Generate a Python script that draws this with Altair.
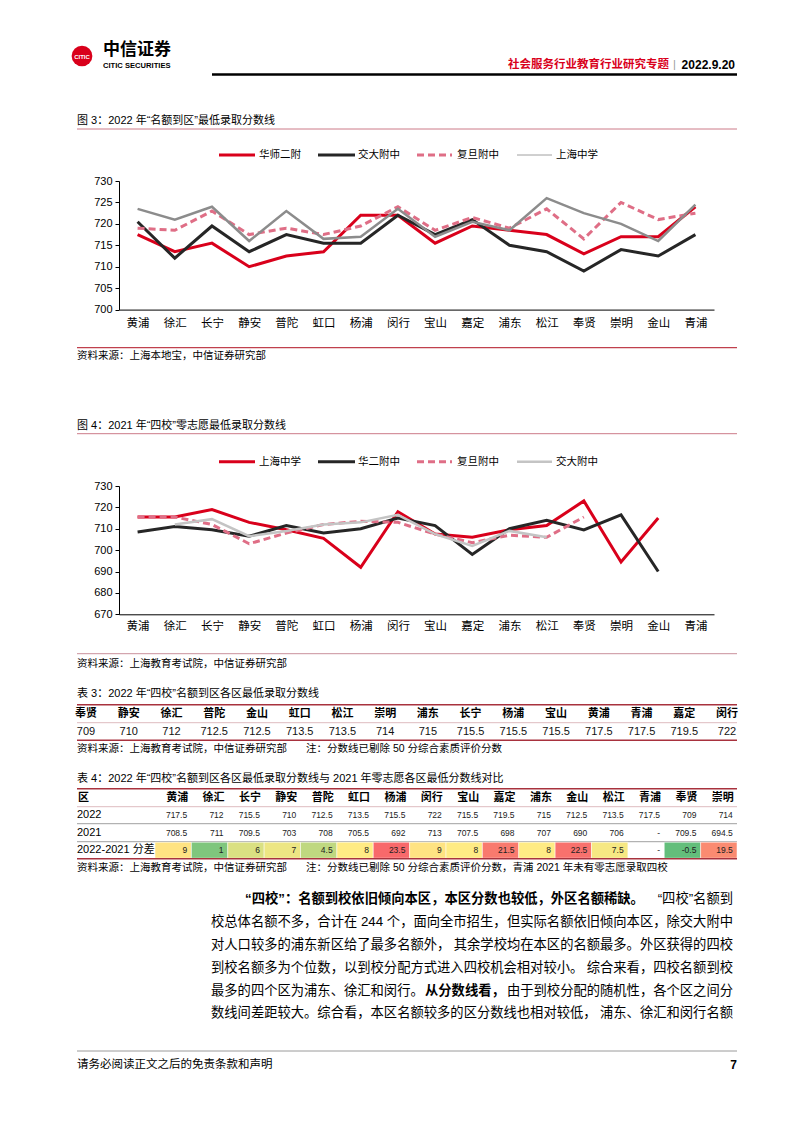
import altair as alt
import pandas as pd

# ---------------- data ----------------
districts = ["黄浦", "徐汇", "长宁", "静安", "普陀", "虹口", "杨浦", "闵行",
             "宝山", "嘉定", "浦东", "松江", "奉贤", "崇明", "金山", "青浦"]

# Figure 3 : 2022 "名额到区" minimum scores
schools_2022 = ["华师二附", "交大附中", "复旦附中", "上海中学"]
hs2f_2022 = [717.5, 713.5, 715.5, 710, 712.5, 713.5, 722, 722, 715.5, 719.5, 718.5, 717.5, 713, 717, 717, 724]
jdfz_2022 = [720.5, 712, 719.5, 713.5, 717.5, 715.5, 715.5, 722, 717.5, 721, 715, 713.5, 709, 714, 712.5, 717.5]
fdfz_2022 = [719, 718.5, 723, 717.5, 719, 717.5, 719.5, 724, 718.5, 721.5, 719, 723.5, 716.5, 725, 721, 722.5]
shzx_2022 = [723.5, 721, 724, 716, 723, 716.5, 717, 723.5, 717, 720.5, 718.5, 726, 722.5, 720, 716, 724.5]

# Figure 4 : 2021 "四校" zero-choice minimum scores
schools_2021 = ["上海中学", "华二附中", "复旦附中", "交大附中"]
shzx_2021 = [715.5, 715.5, 719, 713, 709.5, 705.5, 692, 718, 707.5, 706, 709.5, 711.5, 723, 694.5, 715, None]
h2fz_2021 = [708.5, 711, 709.5, 706.5, 711.5, 708, 710, 715, 711.5, 698, 710, 714, 709.5, 716.5, 690, None]
fdfz_2021 = [715.5, 715.5, 712, 703, 708, 712, 713.5, 713, 707.5, 703.5, 707, 706, 715.5, None, None, None]
jdfz_2021 = [None, 712, 714.5, 706.5, 709, 712, 713, 716.5, 707.5, 702, 709, 706, None, None, None, None]

# Table 3
t3_names = ["奉贤", "静安", "徐汇", "普陀", "金山", "虹口", "松江", "崇明",
            "浦东", "长宁", "杨浦", "宝山", "黄浦", "青浦", "嘉定", "闵行"]
t3_vals = [709, 710, 712, 712.5, 712.5, 713.5, 713.5, 714, 715, 715.5, 715.5, 715.5, 717.5, 717.5, 719.5, 722]

# Table 4
t4_names = ["黄浦", "徐汇", "长宁", "静安", "普陀", "虹口", "杨浦", "闵行",
            "宝山", "嘉定", "浦东", "金山", "松江", "青浦", "奉贤", "崇明"]
t4_2022 = [717.5, 712, 715.5, 710, 712.5, 713.5, 715.5, 722, 715.5, 719.5, 715, 712.5, 713.5, 717.5, 709, 714]
t4_2021 = [708.5, 711, 709.5, 703, 708, 705.5, 692, 713, 707.5, 698, 707, 690, 706, None, 709.5, 694.5]
t4_diff = [9, 1, 6, 7, 4.5, 8, 23.5, 9, 8, 21.5, 8, 22.5, 7.5, None, -0.5, 19.5]

# ---------------- style ----------------
CJK = "Noto Sans CJK SC"
MIX = "Liberation Sans, Noto Sans CJK SC"
RED = "#D9001B"
BLACK = "#262626"
PINK = "#DF6E86"
GRAY1 = "#8C8C8C"
GRAY2 = "#C4C4C4"
W = 786
dummy = pd.DataFrame({"k": [0]})


def fmt(v):
    return "-" if v is None else f"{v:g}"


def text(x, y, s, oy, size=10.5, weight="normal", color="#000", align="left", font=MIX):
    return alt.Chart(dummy).mark_text(
        text=s, fontSize=size, fontWeight=weight, color=color, align=align,
        baseline="middle", font=font
    ).encode(x=alt.value(x - 8), y=alt.value(y - oy))


def hrule(x1, x2, y, oy, color="#000", width=1.0, dash=None):
    kw = dict(color=color, strokeWidth=width)
    if dash:
        kw["strokeDash"] = dash
    return alt.Chart(dummy).mark_rule(**kw).encode(
        x=alt.value(x1 - 8), x2=alt.value(x2 - 8), y=alt.value(y - oy))


def legend(items, y, oy):
    out = []
    xs = [(219, 255, 259), (318, 355, 358), (417, 452, 457), (517, 552, 556)]
    for (x1, x2, tx), (name, color, width, dash) in zip(xs, items):
        out.append(hrule(x1, x2, y, oy, color=color, width=width, dash=dash))
        out.append(text(tx, y, name, oy, size=10.5, font=CJK))
    return out


def line_chart(series, names, styles, ydomain, yvalues, height, label_pad):
    rows = []
    for name, vals in zip(names, series):
        for d, v in zip(districts, vals):
            if v is not None:
                rows.append({"district": d, "school": name, "value": v})
    df = pd.DataFrame(rows)
    xenc = alt.X("district:N", sort=districts,
                 scale=alt.Scale(domain=districts, range=[111, 706], paddingInner=0, paddingOuter=0),
                 axis=alt.Axis(title=None, labelAngle=0, ticks=False, tickSize=0, labelPadding=label_pad,
                               labelFont=CJK, labelFontSize=11.5, labelColor="#000",
                               domainColor="#000", domainWidth=1, grid=False))
    yenc = alt.Y("value:Q",
                 scale=alt.Scale(domain=ydomain, nice=False, zero=False),
                 axis=alt.Axis(title=None, values=yvalues, offset=-111, tickSize=4, tickColor="#000",
                               labelPadding=3, labelFont="Liberation Sans", labelFontSize=11,
                               labelColor="#000", domainColor="#000", domainWidth=1, grid=False))
    layers = []
    for name, (color, width, dash) in zip(names, styles):
        mk = dict(color=color, strokeWidth=width, strokeCap="butt", strokeJoin="miter")
        if dash:
            mk["strokeDash"] = dash
        layers.append(alt.Chart(df).transform_filter(alt.datum.school == name)
                      .mark_line(**mk).encode(x=xenc, y=yenc))
    return alt.layer(*layers).properties(width=W, height=height)


# ---------------- row A : header, figure 3 title, legend ----------------
oyA = 8
rowA_layers = [
    alt.Chart(dummy).mark_point(filled=True, shape="circle", size=430, color=RED, opacity=1)
    .encode(x=alt.value(82 - 8), y=alt.value(56 - oyA)),
    text(82, 56.5, "CITIC", oyA, size=6, weight="bold", color="#fff", align="center", font="Liberation Sans"),
    text(103, 50, "中信证券", oyA, size=17, weight="bold", font=CJK),
    text(103, 66, "CITIC SECURITIES", oyA, size=7.6, weight="bold", font="Liberation Sans Narrow, Liberation Sans"),
    text(669, 65, "社会服务行业教育行业研究专题", oyA, size=11.5, weight="bold", color=RED, align="right", font=CJK),
    text(674.5, 65, "|", oyA, size=11, color="#999", align="center"),
    text(735, 65, "2022.9.20", oyA, size=12, weight="bold", align="right", font="Liberation Sans"),
    hrule(212, 737, 74.5, oyA, color="#000", width=2.5),
    text(77, 121, "图 3：2022 年“名额到区”最低录取分数线", oyA, size=11),
    hrule(77, 737, 129, oyA, color="#CC7A88", width=1),
]
rowA_layers += legend([("华师二附", RED, 3, None), ("交大附中", BLACK, 3, None),
                       ("复旦附中", PINK, 3, [7, 4]), ("上海中学", "#A0A0A0", 1, None)], 155, oyA)
rowA = alt.layer(*rowA_layers).properties(width=W, height=172.7)

# ---------------- row B : figure 3 ----------------
rowB = line_chart([hs2f_2022, jdfz_2022, fdfz_2022, shzx_2022], schools_2022,
                  [(RED, 3, None), (BLACK, 3, None), (PINK, 3, [7, 4]), (GRAY1, 2.5, None)],
                  [700, 730], [700, 705, 710, 715, 720, 725, 730], 128.6, 8)

# ---------------- row C : source, figure 4 title, legend ----------------
oyC = 309.3
rowC_layers = [
    hrule(77, 737, 347, oyC, color="#C0404D", width=1.2),
    text(77, 355, "资料来源：上海本地宝，中信证券研究部", oyC, size=10.5),
    text(77, 425, "图 4：2021 年“四校”零志愿最低录取分数线", oyC, size=11),
    hrule(77, 737, 433, oyC, color="#CC7A88", width=1),
]
rowC_layers += legend([("上海中学", RED, 3, None), ("华二附中", BLACK, 3, None),
                       ("复旦附中", PINK, 3, [7, 4]), ("交大附中", GRAY2, 2.5, None)], 461, oyC)
rowC = alt.layer(*rowC_layers).properties(width=W, height=175.7)

# ---------------- row D : figure 4 ----------------
rowD = line_chart([shzx_2021, h2fz_2021, fdfz_2021, jdfz_2021], schools_2021,
                  [(RED, 3, None), (BLACK, 3, None), (PINK, 3, [7, 4]), (GRAY2, 2.5, None)],
                  [670, 730], [670, 680, 690, 700, 710, 720, 730], 128.3, 6)

# ---------------- row E : tables, text, footer ----------------
oyE = 613.3
layersE = [
    hrule(77, 737, 652, oyE, color="#C9909C", width=1),
    text(77, 662, "资料来源：上海教育考试院，中信证券研究部", oyE, size=10.5),
    text(77, 692, "表 3：2022 年“四校”名额到区各区最低录取分数线", oyE, size=11),
    hrule(77, 737, 703, oyE, color="#A8323E", width=1.5),
    hrule(77, 737, 721, oyE, color="#D4A9AF", width=0.8),
    hrule(77, 737, 738.5, oyE, color="#A8323E", width=1.5),
    text(77, 747, "资料来源：上海教育考试院，中信证券研究部", oyE, size=10.5),
    text(306, 747, "注：分数线已剔除 50 分综合素质评价分数", oyE, size=10.5),
]

t3 = pd.DataFrame({"district": t3_names, "score": [fmt(v) for v in t3_vals]})
x3 = alt.X("district:N", sort=t3_names,
           scale=alt.Scale(type="point", domain=t3_names, range=[78, 719], padding=0), axis=None)
layersE.append(alt.Chart(t3).mark_text(fontSize=11, fontWeight="bold", font=CJK, baseline="middle", color="#000")
               .encode(x=x3, y=alt.value(712 - oyE), text="district:N"))
layersE.append(alt.Chart(t3).mark_text(fontSize=11, font="Liberation Sans", baseline="middle", color="#111")
               .encode(x=x3, y=alt.value(730 - oyE), text="score:N"))

# table 4
layersE += [
    text(77, 777, "表 4：2022 年“四校”名额到区各区最低录取分数线与 2021 年零志愿各区最低分数线对比", oyE, size=11),
    hrule(77, 737, 787, oyE, color="#A8323E", width=1.5),
    hrule(77, 737, 805, oyE, color="#D4A9AF", width=0.8),
    hrule(77, 737, 822, oyE, color="#888888", width=0.8),
    hrule(77, 737, 840, oyE, color="#888888", width=0.8),
]
t4 = pd.DataFrame({"district": t4_names,
                   "s2022": [fmt(v) for v in t4_2022],
                   "s2021": [fmt(v) for v in t4_2021],
                   "sdiff": [fmt(v) for v in t4_diff],
                   "diff": t4_diff})
x4 = alt.X("district:N", sort=t4_names,
           scale=alt.Scale(domain=t4_names, range=[147, 729], paddingInner=0, paddingOuter=0), axis=None)
layersE.append(alt.Chart(t4).transform_filter("isValid(datum.diff)").mark_rect(stroke="#fff", strokeWidth=0.5)
               .encode(x=x4, y=alt.value(840.5 - oyE), y2=alt.value(856.5 - oyE),
                       color=alt.Color("diff:Q", legend=None,
                                       scale=alt.Scale(domain=[-0.5, 8, 23.5],
                                                       range=["#63BE7B", "#FFEB84", "#F8696B"],
                                                       interpolate="rgb"))))
layersE.append(hrule(77, 737, 857, oyE, color="#A8323E", width=1.5))
layersE.append(alt.Chart(t4).mark_text(fontSize=11, fontWeight="bold", font=CJK, baseline="middle",
                                       align="right", dx=15, color="#000")
               .encode(x=x4, y=alt.value(796 - oyE), text="district:N"))
for col, yy in [("s2022", 813.5), ("s2021", 831), ("sdiff", 848.5)]:
    layersE.append(alt.Chart(t4).mark_text(fontSize=8.5, font="Liberation Sans", baseline="middle",
                                           align="right", dx=14, color="#222")
                   .encode(x=x4, y=alt.value(yy - oyE), text=f"{col}:N"))
layersE += [
    text(78, 796, "区", oyE, size=11, weight="bold", font=CJK),
    text(77, 813.5, "2022", oyE, size=11, font="Liberation Sans"),
    text(77, 831, "2021", oyE, size=11, font="Liberation Sans"),
    text(77, 848.5, "2022-2021 分差", oyE, size=11),
    text(77, 866, "资料来源：上海教育考试院，中信证券研究部", oyE, size=10.5),
    text(306, 866, "注：分数线已剔除 50 分综合素质评价分数，青浦 2021 年未有零志愿录取四校", oyE, size=10.5),
]

# paragraph
P = 13.3
para = [
    (897.3, [("“四校”：名额到校依旧倾向本区，本区分数也较低，外区名额稀缺。", "bold", 245, "left"),
             ("“四校”名额到", "normal", 733, "right")]),
    (920.7, [("校总体名额不多，合计在 244 个，面向全市招生，", "normal", 211, "left"),
             ("但实际名额依旧倾向本区，除交大附中", "normal", 733, "right")]),
    (943.7, [("对人口较多的浦东新区给了最多名额外，", "normal", 211, "left"),
             ("其余学校均在本区的名额最多。外区获得的四校", "normal", 733, "right")]),
    (966.7, [("到校名额多为个位数，以到校分配方式进入四校机会相对较小。", "normal", 211, "left"),
             ("综合来看，四校名额到校", "normal", 733, "right")]),
    (989.3, [("最多的四个区为浦东、徐汇和闵行。", "normal", 211, "left"),
             ("从分数线看，", "bold", 425, "left"),
             ("由于到校分配的随机性，各个区之间分", "normal", 733, "right")]),
    (1011.7, [("数线间差距较大。综合看，本区名额较多的区分数线也相对较低，", "normal", 211, "left"),
              ("浦东、徐汇和闵行名额", "normal", 733, "right")]),
]
for yy, segs in para:
    for s, w, xx, al in segs:
        layersE.append(text(xx, yy, s, oyE, size=P, weight=w, align=al))

# footer
layersE += [
    hrule(77, 737, 1049.3, oyE, color="#9A9A9A", width=1),
    text(77, 1063, "请务必阅读正文之后的免责条款和声明", oyE, size=11.5, font=CJK),
    text(737, 1063, "7", oyE, size=12, weight="bold", align="right", font="Liberation Sans"),
]
rowE = alt.layer(*layersE).resolve_scale(x="independent", color="independent").properties(width=W, height=511.7)

chart = alt.VConcatChart(
    vconcat=[rowA, rowB, rowC, rowD, rowE],
    spacing=0, bounds="flush", padding=0,
).configure_view(stroke=None).configure_concat(spacing=0)

chart.save("out.html", embed_options={"renderer": "svg", "actions": False})
